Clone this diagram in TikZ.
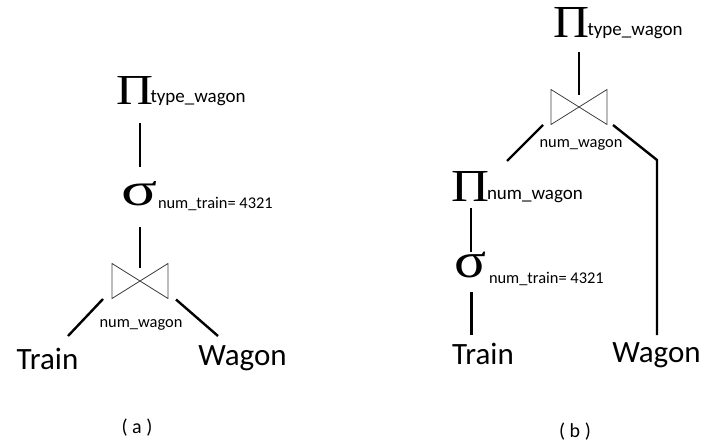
\documentclass[tikz,border=0pt]{standalone}
\usepackage{fontspec}
\usepackage{graphicx}
\setmainfont{Carlito}
\newfontfamily\grk{Liberation Serif}
\usetikzlibrary{calc}
\tikzset{
  conn/.style={line width=2.4pt},
  txt/.style={inner sep=0pt, outer sep=0pt},
  big/.style={txt, font=\fontsize{31}{31}\selectfont},
  sub/.style={txt, font=\fontsize{19}{19}\selectfont},
  subs/.style={txt, font=\fontsize{16.4}{16.4}\selectfont},
  captxt/.style={txt, font=\fontsize{20}{20}\selectfont},
  sym/.style={txt},
  bowtie/.style={minimum width=56pt, minimum height=35pt, inner sep=0pt, outer sep=0pt},
  bowline/.style={line width=0.8pt, draw=black!75}
}
\newcommand{\PiSym}[2]{\resizebox{#1}{#2}{\grk Π}}
\newcommand{\SigSym}[2]{\resizebox{#1}{#2}{\grk σ}}
\newcommand{\drawbow}[1]{\draw[bowline] (#1.north west) -- (#1.south east) -- (#1.north east) -- (#1.south west) -- cycle;}
\begin{document}
\begin{tikzpicture}[x=1pt,y=-1pt]
\useasboundingbox (0,0) rectangle (704,441);
% ---------- (a) ----------
\node[sym, anchor=south] (piA) at (135,105) {\PiSym{37pt}{28pt}};
\node[sub, anchor=base west] (subA) at (150.5,103) {type\_wagon};
\node[sym, anchor=south] (sigA) at (139,206) {\SigSym{36pt}{24pt}};
\node[subs, anchor=base west] (subsigA) at (158,208) {num\_train= 4321};
\node[bowtie] (bowA) at (140,281) {};
\drawbow{bowA}
\node[subs, anchor=base] (jlabA) at (141,327) {num\_wagon};
\node[big, anchor=base] (trainA) at (47.5,369) {Train};
\node[big, anchor=base] (wagonA) at (242.5,365) {Wagon};
\node[captxt, anchor=base] (capA) at (137,433) {( a )};
\draw[conn] ($(piA.south)+(5,18)$) -- ($(sigA.south)+(1,-39)$);
\draw[conn] ($(sigA.south)+(1,21)$) -- ($(bowA.center)+(0,-13)$);
\draw[conn] ($(bowA.south west)+(-9,0.5)$) -- ($(trainA.base)+(20.5,-33)$);
\draw[conn] ($(bowA.south east)+(8,1)$) -- ($(wagonA.base)+(-24.5,-29)$);
% ---------- (b) ----------
\node[sym, anchor=south] (piB) at (572,38) {\PiSym{36pt}{30pt}};
\node[sub, anchor=base west] (subB) at (587.5,36) {type\_wagon};
\node[bowtie] (bowB) at (579,107) {};
\drawbow{bowB}
\node[subs, anchor=base] (jlabB) at (581,147) {num\_wagon};
\node[sym, anchor=south] (piB2) at (471,201) {\PiSym{38pt}{30pt}};
\node[sub, anchor=base west] (subB2) at (487,199) {num\_wagon};
\node[sym, anchor=south] (sigB) at (470,278) {\SigSym{32pt}{25.5pt}};
\node[subs, anchor=base west] (subsigB) at (489,283) {num\_train= 4321};
\node[big, anchor=base] (trainB) at (483,364) {Train};
\node[big, anchor=base] (wagonB) at (656.5,362) {Wagon};
\node[captxt, anchor=base] (capB) at (575,437) {( b )};
\draw[conn] ($(piB.south)+(7,14)$) -- ($(bowB.center)+(0,-12)$);
\draw[conn] ($(bowB.south west)+(-8,0.5)$) -- ($(trainB.base)+(24,-203)$);
\draw[conn] ($(bowB.south east)+(6,0.5)$) -- ($(wagonB.base)+(0.5,-202)$) -- ($(wagonB.base)+(0.5,-27)$);
\draw[conn] ($(piB2.south)+(0,7)$) -- ($(sigB.south)+(1,-26)$);
\draw[conn] ($(sigB.south)+(1.5,14)$) -- ($(trainB.base)+(-11.5,-29)$);
\end{tikzpicture}
\end{document}
